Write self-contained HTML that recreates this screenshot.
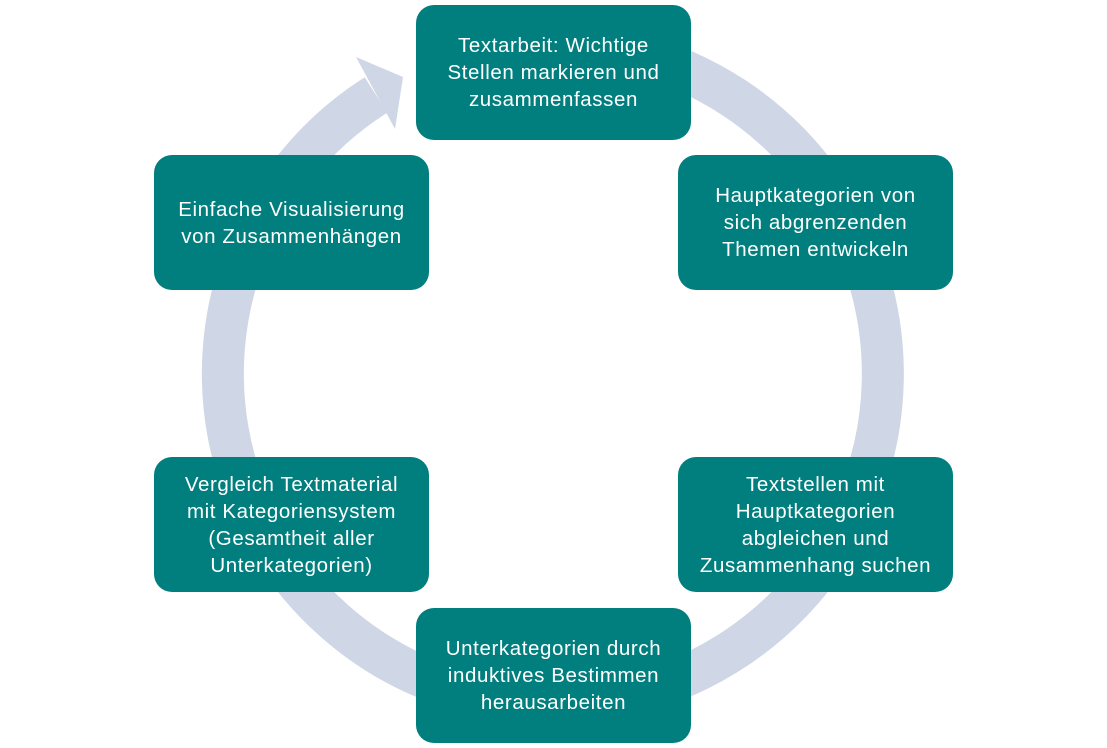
<!DOCTYPE html>
<html><head><meta charset="utf-8"><style>
body{margin:0;background:#fff;width:1107px;height:748px;position:relative;overflow:hidden;font-family:"Liberation Sans",sans-serif}
.b{position:absolute;width:275px;height:135px;background:#007f7e;border-radius:18px;color:#fff;font-size:20.5px;letter-spacing:0.6px;line-height:27px;display:flex;align-items:center;justify-content:center;text-align:center;box-sizing:border-box;padding:0 2px;white-space:nowrap}
svg{position:absolute;left:0;top:0}
</style></head><body>
<svg width="1107" height="748">
<path d="M600 47 A330 330 0 1 1 376 95" fill="none" stroke="#cfd6e6" stroke-width="42"/>
<polygon points="356,57 403,77 395,129" fill="#cfd6e6"/>
</svg>
<div class="b" style="left:416px;top:5px">Textarbeit: Wichtige<br>Stellen markieren und<br>zusammenfassen</div>
<div class="b" style="left:678px;top:155px">Hauptkategorien von<br>sich abgrenzenden<br>Themen entwickeln</div>
<div class="b" style="left:678px;top:457px">Textstellen mit<br>Hauptkategorien<br>abgleichen und<br>Zusammenhang suchen</div>
<div class="b" style="left:416px;top:608px">Unterkategorien durch<br>induktives Bestimmen<br>herausarbeiten</div>
<div class="b" style="left:154px;top:457px">Vergleich Textmaterial<br>mit Kategoriensystem<br>(Gesamtheit aller<br>Unterkategorien)</div>
<div class="b" style="left:154px;top:155px">Einfache Visualisierung<br>von Zusammenhängen</div>
</body></html>
